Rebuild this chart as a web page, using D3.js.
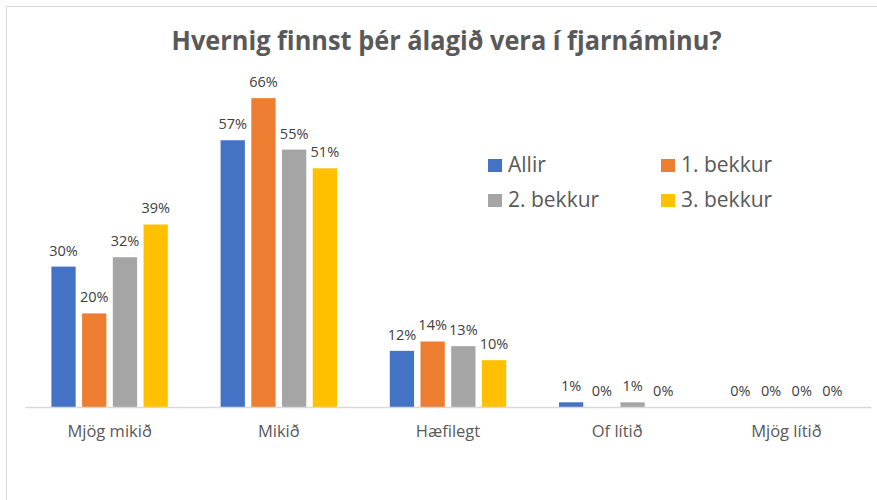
<html>
  <head>
    <script src="https://d3js.org/d3.v7.min.js"></script>
    <style>
      body { margin: 0; background: #fff; }
      text { font-family: "Open Sans", sans-serif; }
    </style>
  </head>
  <body>
    <script>
      // data
      var categories = ["Mjög mikið", "Mikið", "Hæfilegt", "Of lítið", "Mjög lítið"]
      var series = ["Allir", "1. bekkur", "2. bekkur", "3. bekkur"]
      var allir    = [30, 57, 12, 1, 0]
      var bekkur1  = [20, 66, 14, 0, 0]
      var bekkur2  = [32, 55, 13, 1, 0]
      var bekkur3  = [39, 51, 10, 0, 0]
      var colors = ["#4472c4", "#ed7d31", "#a5a5a5", "#ffc000"]
      var values = [allir, bekkur1, bekkur2, bekkur3]

      var width = 877
      var height = 500

      var svg = d3.select("body").append("svg")
        .attr("width", width)
        .attr("height", height);

      // chart frame (only top + left edges visible)
      svg.append("line")
        .attr("x1", 6.5).attr("y1", 6.5).attr("x2", width).attr("y2", 6.5)
        .style("stroke", "#d9d9d9");
      svg.append("line")
        .attr("x1", 6.5).attr("y1", 6.5).attr("x2", 6.5).attr("y2", height)
        .style("stroke", "#d9d9d9");

      // title
      svg.append("text")
        .attr("x", 446.5)
        .attr("y", 50)
        .attr("text-anchor", "middle")
        .attr("textLength", 550)
        .attr("lengthAdjust", "spacingAndGlyphs")
        .style("font-size", "27px")
        .style("font-weight", "bold")
        .style("fill", "#595959")
        .text("Hvernig finnst þér álagið vera í fjarnáminu?");

      // scales
      var x0 = d3.scaleBand()
        .domain(categories)
        .range([25, 871]);

      var x1 = d3.scaleBand()
        .domain(series)
        .range([26.4, x0.bandwidth() - 26.4])
        .paddingInner(0.21);

      var y = d3.scaleLinear()
        .domain([0, 70])
        .range([407, 79.4]);

      // bars
      var groups = svg.selectAll("g.cat")
        .data(categories)
        .enter().append("g")
        .attr("class", "cat")
        .attr("transform", function(d) { return "translate(" + x0(d) + ",0)"; });

      groups.each(function(cat, ci) {
        var g = d3.select(this);
        series.forEach(function(s, si) {
          var v = values[si][ci];
          g.append("rect")
            .attr("x", x1(s))
            .attr("y", y(v))
            .attr("width", x1.bandwidth())
            .attr("height", y(0) - y(v))
            .attr("fill", colors[si]);
          g.append("text")
            .attr("x", x1(s) + x1.bandwidth() / 2)
            .attr("y", y(v) - 11)
            .attr("text-anchor", "middle")
            .style("font-size", "14.5px")
            .style("fill", "#404040")
            .text(v + "%");
        });
      });

      // x axis
      var xAxis = svg.append("g")
        .attr("transform", "translate(0,407)")
        .call(d3.axisBottom(x0).tickSize(0).tickPadding(18));
      xAxis.select(".domain").style("stroke", "#d9d9d9").style("stroke-width", 1.3);
      xAxis.selectAll("text")
        .style("font-family", "'Open Sans', sans-serif")
        .style("font-size", "16.5px")
        .style("fill", "#595959");

      // legend
      var legend = svg.append("g");
      series.forEach(function(s, i) {
        var lx = 488 + (i % 2) * 173
        var ly = 172 + Math.floor(i / 2) * 35
        legend.append("rect")
          .attr("x", lx)
          .attr("y", ly - 13)
          .attr("width", 14)
          .attr("height", 13)
          .attr("fill", colors[i]);
        legend.append("text")
          .attr("x", lx + 20)
          .attr("y", ly)
          .style("font-size", "21px")
          .style("fill", "#595959")
          .text(s);
      });
    </script>
  </body>
</html>
